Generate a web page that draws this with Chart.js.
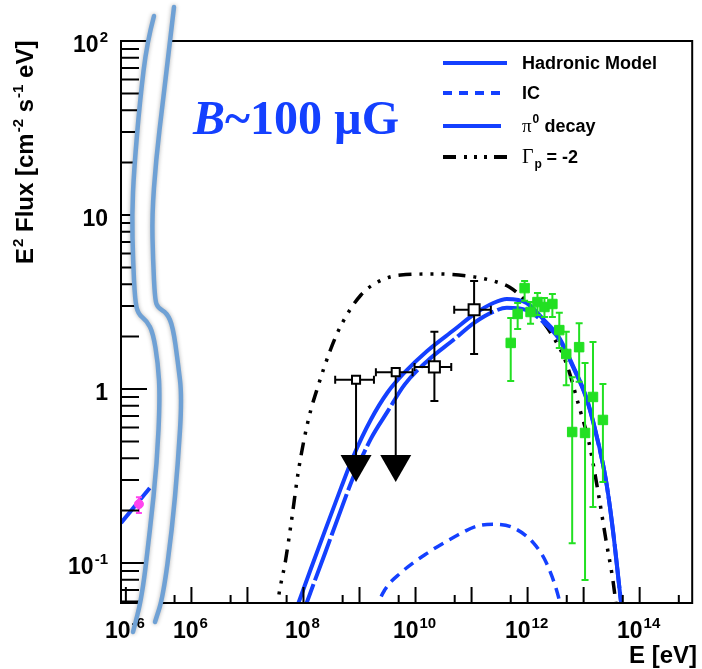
<!DOCTYPE html>
<html>
<head>
<meta charset="utf-8">
<script src="https://cdn.jsdelivr.net/npm/chart.js@4.4.1/dist/chart.umd.min.js"></script>
<style>
  html, body { margin: 0; padding: 0; background: #fff; }
  canvas { display: block; }
</style>
</head>
<body>
<canvas id="sed" width="702" height="669"></canvas>
<script>
// Values. Energies in eV, E^2 flux in cm^-2 s^-1 eV.

// hadronic model (total)
var hadronicE = [8.13e7, 1.33e8, 2.45e8, 4.71e8, 7.67e8, 1.6e9, 3.16e9, 6.38e9, 1.63e10, 4.9e10, 1.11e11, 2.5e11, 4.25e11, 9.59e11, 1.92e12, 3.68e12, 6.52e12, 1.11e13, 1.66e13, 2.5e13, 3.33e13, 4.61e13, 5.1e13];
var hadronicF = [0.0589, 0.0912, 0.155, 0.272, 0.407, 0.668, 0.955, 1.245, 1.66, 2.19, 2.69, 3.13, 3.29, 3.12, 2.51, 1.97, 1.35, 0.90, 0.56, 0.30, 0.155, 0.0612, 0.047];

// pi0 decay component
var pionE = [8.13e7, 1.33e8, 2.45e8, 4.71e8, 7.67e8, 1.6e9, 3.16e9, 6.38e9, 1.63e10, 4.9e10, 1.11e11, 2.5e11, 4.25e11, 9.59e11, 1.92e12, 3.68e12, 6.52e12, 1.11e13, 1.66e13, 2.5e13, 3.33e13, 4.61e13, 5.1e13];
var pionF = [0.0437, 0.0676, 0.115, 0.204, 0.309, 0.519, 0.741, 1.06, 1.45, 1.93, 2.40, 2.79, 2.93, 2.84, 2.42, 1.93, 1.33, 0.89, 0.555, 0.30, 0.155, 0.0612, 0.047];

// inverse Compton component
var icE = [2.0e9, 2.21e9, 2.82e9, 5.43e9, 1.63e10, 4.9e10, 1.25e11, 2.5e11, 5.65e11, 1.28e12, 2.17e12, 3.68e12, 3.98e12];
var icF = [0.051, 0.0589, 0.070, 0.0877, 0.114, 0.141, 0.163, 0.167, 0.159, 0.130, 0.100, 0.0612, 0.054];

// proton index -2 model
var gammaE = [3.3e7, 3.47e7, 4.8e7, 6.14e7, 8.17e7, 1.22e8, 1.84e8, 3.01e8, 4.71e8, 1.06e9, 2.31e9, 5.43e9, 2.45e10, 1.11e11, 2.82e11, 4.8e11, 7.21e11, 1.28e12, 2.88e12, 4.9e12, 8.32e12, 1.25e13, 1.88e13, 2.5e13, 3.33e13, 3.76e13, 4.0e13];
var gammaF = [0.05, 0.0589, 0.104, 0.177, 0.342, 0.664, 1.05, 1.67, 2.33, 3.47, 4.18, 4.52, 4.58, 4.41, 4.12, 3.85, 3.47, 2.84, 1.99, 1.41, 0.789, 0.49, 0.239, 0.136, 0.0798, 0.0589, 0.05];

// synchrotron piece shown in the radio segment
var synchE = [8.2e-7, 2.67e-6];
var synchF = [0.170, 0.270];

// Fermi-LAT points (first two are upper limits)
var fermiE = [8.67e8, 4.43e9, 2.17e10, 1.11e11];
var fermiF = [1.13, 1.25, 1.34, 2.85];
var fermiElo = [3.68e8, 1.96e9, 9.6e9, 4.9e10];
var fermiEhi = [1.81e9, 8.85e9, 4.34e10, 2.21e11];
var fermiFlo = [null, null, 0.853, 1.59];
var fermiFhi = [null, null, 2.13, 4.18];
var fermiLimitTo = [0.292, 0.292, null, null];

// TeV points
var tevE = [5.0e11, 6.65e11, 8.85e11, 1.13e12, 1.5e12, 2.0e12, 2.77e12, 3.68e12, 4.9e12, 6.25e12, 8.32e12, 1.06e13, 1.47e13, 2.21e13];
var tevF = [1.84, 2.70, 3.80, 2.77, 3.16, 2.96, 3.08, 2.18, 1.59, 0.566, 1.74, 0.559, 0.90, 0.664];
var tevFlo = [1.11, 2.21, 3.21, 2.37, 2.66, 2.59, 2.59, 1.72, 1.05, 0.130, 1.10, 0.0798, 0.21, 0.292];
var tevFhi = [2.56, 3.12, 4.18, 3.16, 3.56, 3.33, 3.52, 2.74, 2.13, 1.17, 2.39, 1.41, 1.86, 1.07];

// radio point
var radioE = [1.71e-6];
var radioF = [0.218];
var radioFlo = [0.194];
var radioFhi = [0.239];

// axis ticks and labels
var xLabelE = [1e-6, 1e6, 1e8, 1e10, 1e12, 1e14];
var xLabelExp = ['-6', '6', '8', '10', '12', '14'];
var yLabelV = [0.1, 1, 10, 100];
var yLabelTxt = [['10', '-1'], ['1', ''], ['10', ''], ['10', '2']];

var X_MIN = 4.743, X_MAX = 14.938;   // log10(E) range of the main axis
var Y_MIN = 0.0589, Y_MAX = 100;
var LEFT_SHIFT = 10.83;              // broken axis: the radio decade is slid next to 1e5 eV

var BLUE = '#1440ff';
var GREEN = '#22e022';
var SANS = '"Liberation Sans", Arial, sans-serif';
var SERIF = '"Liberation Serif", "Times New Roman", serif';

function u(E) { return E < 1 ? Math.log10(E) + LEFT_SHIFT : Math.log10(E); }
function pts(es, fs) { return es.map(function (e, i) { return { x: u(e), y: fs[i] }; }); }

function smoothPath(ctx, p, cont) {
    if (cont) ctx.lineTo(p[0][0], p[0][1]); else ctx.moveTo(p[0][0], p[0][1]);
    for (var i = 1; i < p.length - 1; i++) {
        ctx.quadraticCurveTo(p[i][0], p[i][1], (p[i][0] + p[i + 1][0]) / 2, (p[i][1] + p[i + 1][1]) / 2);
    }
    ctx.lineTo(p[p.length - 1][0], p[p.length - 1][1]);
}

function vbar(ctx, x, y0, y1, cap) {
    ctx.beginPath();
    ctx.moveTo(x, y0); ctx.lineTo(x, y1);
    ctx.moveTo(x - cap, y0); ctx.lineTo(x + cap, y0);
    ctx.moveTo(x - cap, y1); ctx.lineTo(x + cap, y1);
    ctx.stroke();
}

function power(ctx, base, exp, x, y, align, big, small) {
    ctx.font = 'bold ' + big + 'px ' + SANS;
    var wb = ctx.measureText(base).width;
    ctx.font = 'bold ' + small + 'px ' + SANS;
    var we = exp ? ctx.measureText(exp).width + 1 : 0;
    var w = wb + we;
    var x0 = align === 'right' ? x - w : x - w / 2;
    ctx.textAlign = 'left';
    ctx.textBaseline = 'alphabetic';
    ctx.font = 'bold ' + big + 'px ' + SANS;
    ctx.fillText(base, x0, y);
    if (exp) {
        ctx.font = 'bold ' + small + 'px ' + SANS;
        ctx.fillText(exp, x0 + wb + 1, y - big * 0.45);
    }
}

// the two wavy lines marking the axis break
var breakL = [[154, 16], [147, 42], [140, 100], [134, 170], [132, 215], [133, 260], [135, 300], [138, 314], [147, 321], [153, 333], [158, 363], [160, 397], [157, 463], [150, 530], [142, 597], [133, 632]];
var breakR = [[174, 7], [170, 42], [163, 100], [156, 160], [152, 215], [153, 260], [155, 300], [158, 308], [167, 313], [173, 327], [178, 363], [182, 397], [178, 463], [172, 530], [163, 597], [155, 622]];

var sedDecor = {
    id: 'sedDecor',
    beforeDatasetDraw: function (chart, args) {
        var ctx = chart.ctx, xs = chart.scales.x, ys = chart.scales.y;
        ctx.save();
        ctx.lineWidth = 2;
        if (args.index === 0) {
            ctx.strokeStyle = '#000';
            ctx.fillStyle = '#000';
            fermiE.forEach(function (e, i) {
                var px = xs.getPixelForValue(u(e)), py = ys.getPixelForValue(fermiF[i]);
                var x0 = xs.getPixelForValue(u(fermiElo[i])), x1 = xs.getPixelForValue(u(fermiEhi[i]));
                ctx.beginPath();
                ctx.moveTo(x0, py); ctx.lineTo(x1, py);
                ctx.moveTo(x0, py - 4); ctx.lineTo(x0, py + 4);
                ctx.moveTo(x1, py - 4); ctx.lineTo(x1, py + 4);
                ctx.stroke();
                if (fermiLimitTo[i]) {
                    var tip = ys.getPixelForValue(fermiLimitTo[i]);
                    ctx.beginPath();
                    ctx.moveTo(px, py); ctx.lineTo(px, tip - 26);
                    ctx.stroke();
                    ctx.beginPath();
                    ctx.moveTo(px - 15.5, tip - 27); ctx.lineTo(px + 15.5, tip - 27); ctx.lineTo(px, tip);
                    ctx.closePath();
                    ctx.fill();
                } else {
                    vbar(ctx, px, ys.getPixelForValue(fermiFhi[i]), ys.getPixelForValue(fermiFlo[i]), 4);
                }
            });
        } else if (args.index === 1) {
            ctx.strokeStyle = GREEN;
            tevE.forEach(function (e, i) {
                vbar(ctx, xs.getPixelForValue(u(e)), ys.getPixelForValue(tevFhi[i]), ys.getPixelForValue(tevFlo[i]), 3.5);
            });
        } else if (args.index === 2) {
            ctx.strokeStyle = '#ff44ee';
            radioE.forEach(function (e, i) {
                vbar(ctx, xs.getPixelForValue(u(e)), ys.getPixelForValue(radioFhi[i]), ys.getPixelForValue(radioFlo[i]), 3);
            });
        }
        ctx.restore();
    },
    afterDraw: function (chart) {
        var ctx = chart.ctx, xs = chart.scales.x, ys = chart.scales.y, a = chart.chartArea;
        ctx.save();

        // frame
        ctx.strokeStyle = '#000';
        ctx.lineWidth = 2;
        ctx.strokeRect(a.left, a.top, a.right - a.left, a.bottom - a.top);

        // x ticks: long at decades, short at 5 x decade
        ctx.beginPath();
        for (var n = 5; n <= 14; n++) {
            [[Math.pow(10, n), 16], [5 * Math.pow(10, n), 8]].forEach(function (t) {
                var v = u(t[0]);
                if (v < 5.6 || v > X_MAX) return;
                var px = xs.getPixelForValue(v);
                ctx.moveTo(px, a.bottom); ctx.lineTo(px, a.bottom - t[1]);
            });
        }
        var pl = xs.getPixelForValue(u(1e-6));
        ctx.moveTo(pl, a.bottom); ctx.lineTo(pl, a.bottom - 16);
        // y ticks
        for (var d = -2; d <= 2; d++) {
            for (var m = 1; m <= 9; m++) {
                var v = m * Math.pow(10, d);
                if (v < Y_MIN || v > Y_MAX) continue;
                var py = ys.getPixelForValue(v);
                ctx.moveTo(a.left, py); ctx.lineTo(a.left + (m === 1 ? 26 : 18), py);
            }
        }
        ctx.stroke();

        // axis break: white gap first
        ctx.beginPath();
        smoothPath(ctx, breakL, false);
        smoothPath(ctx, breakR.slice().reverse(), true);
        ctx.closePath();
        ctx.fillStyle = '#fff';
        ctx.fill();

        // tick labels
        ctx.fillStyle = '#000';
        xLabelE.forEach(function (e, i) {
            power(ctx, '10', xLabelExp[i], xs.getPixelForValue(u(e)) - 1, 638, 'center', 23, 15);
        });
        yLabelV.forEach(function (v, i) {
            power(ctx, yLabelTxt[i][0], yLabelTxt[i][1], 108, ys.getPixelForValue(v) + 11, 'right', 23, 15);
        });

        // axis titles
        ctx.font = 'bold 24px ' + SANS;
        ctx.textAlign = 'right';
        ctx.textBaseline = 'alphabetic';
        ctx.fillText('E [eV]', 697, 663);

        ctx.save();
        ctx.translate(33, 264);
        ctx.rotate(-Math.PI / 2);
        var parts = [['E', 0], ['2', 1], [' Flux [cm', 0], ['-2', 1], [' s', 0], ['-1', 1], [' eV]', 0]];
        var cx = 0;
        ctx.textAlign = 'left';
        parts.forEach(function (p) {
            ctx.font = 'bold ' + (p[1] ? 15 : 24) + 'px ' + SANS;
            ctx.fillText(p[0], cx + (p[1] ? 1 : 0), p[1] ? -10 : 0);
            cx += ctx.measureText(p[0]).width + (p[1] ? 1 : 0);
        });
        ctx.restore();

        // B~100 uG
        ctx.fillStyle = BLUE;
        ctx.textAlign = 'left';
        ctx.font = 'italic bold 48px ' + SERIF;
        ctx.fillText('B', 193, 134);
        var bw = ctx.measureText('B').width;
        ctx.font = 'bold 48px ' + SERIF;
        ctx.fillText('~100 \u00b5G', 193 + bw, 134);

        // legend
        var lx0 = 443, lx1 = 507, tx = 522;
        ctx.lineWidth = 4;
        ctx.strokeStyle = BLUE;
        ctx.beginPath(); ctx.moveTo(lx0, 63); ctx.lineTo(lx1, 63); ctx.stroke();
        ctx.setLineDash([9, 7]);
        ctx.beginPath(); ctx.moveTo(lx0, 93); ctx.lineTo(lx1, 93); ctx.stroke();
        ctx.setLineDash([]);
        ctx.beginPath(); ctx.moveTo(lx0, 126); ctx.lineTo(lx1 - 6, 126); ctx.stroke();
        ctx.strokeStyle = '#000';
        ctx.setLineDash([13, 8, 3, 7, 3, 7, 3, 7]);
        ctx.beginPath(); ctx.moveTo(lx0, 157); ctx.lineTo(lx1, 157); ctx.stroke();
        ctx.setLineDash([]);

        ctx.fillStyle = '#000';
        ctx.font = 'bold 18px ' + SANS;
        ctx.fillText('Hadronic Model', tx, 69);
        ctx.fillText('IC', tx, 99);
        ctx.font = '19px ' + SERIF;
        ctx.fillText('\u03c0', tx, 132);
        var w = ctx.measureText('\u03c0').width;
        ctx.font = 'bold 12px ' + SANS;
        ctx.fillText('0', tx + w + 1, 123);
        ctx.font = 'bold 18px ' + SANS;
        ctx.fillText(' decay', tx + w + 8, 132);
        ctx.font = '20px ' + SERIF;
        ctx.fillText('\u0393', tx, 163);
        w = ctx.measureText('\u0393').width;
        ctx.font = 'bold 12px ' + SANS;
        ctx.fillText('p', tx + w + 1, 168);
        ctx.font = 'bold 18px ' + SANS;
        ctx.fillText(' = -2', tx + w + 8, 163);

        // axis break: the two wavy strokes on top
        ctx.strokeStyle = '#6fa1d5';
        ctx.lineWidth = 4.5;
        ctx.lineCap = 'round';
        ctx.shadowColor = 'rgba(0,0,0,0.3)';
        ctx.shadowBlur = 4;
        [breakL, breakR].forEach(function (p) {
            ctx.beginPath();
            smoothPath(ctx, p, false);
            ctx.stroke();
        });
        ctx.restore();
    }
};

new Chart(document.getElementById('sed'), {
    type: 'scatter',
    data: {
        datasets: [
            { label: 'Fermi', data: pts(fermiE, fermiF), pointStyle: 'rect', pointRadius: [5.7, 5.7, 7.8, 7.8],
              backgroundColor: '#fff', borderColor: '#000', borderWidth: 2 },
            { label: 'TeV', data: pts(tevE, tevF), pointStyle: 'rect', pointRadius: 6.7,
              backgroundColor: GREEN, borderColor: GREEN, borderWidth: 1 },
            { label: 'Radio', data: pts(radioE, radioF), pointStyle: 'circle', pointRadius: 4.5,
              backgroundColor: '#ff44ee', borderColor: '#ff44ee', borderWidth: 1 },
            { label: 'Hadronic Model', data: pts(hadronicE, hadronicF), showLine: true, pointRadius: 0,
              borderColor: BLUE, borderWidth: 4, cubicInterpolationMode: 'monotone' },
            { label: 'pi0 decay', data: pts(pionE, pionF), showLine: true, pointRadius: 0,
              borderColor: BLUE, borderWidth: 4, borderDash: [44, 4], cubicInterpolationMode: 'monotone' },
            { label: 'IC', data: pts(icE, icF), showLine: true, pointRadius: 0,
              borderColor: BLUE, borderWidth: 3.5, borderDash: [11, 7], cubicInterpolationMode: 'monotone' },
            { label: 'Gamma_p = -2', data: pts(gammaE, gammaF), showLine: true, pointRadius: 0,
              borderColor: '#000', borderWidth: 3.5, borderDash: [13, 8, 3, 8, 3, 8, 3, 8], cubicInterpolationMode: 'monotone' },
            { label: 'synchrotron', data: pts(synchE, synchF), showLine: true, pointRadius: 0,
              borderColor: BLUE, borderWidth: 4 }
        ]
    },
    options: {
        responsive: false,
        animation: false,
        devicePixelRatio: 1,
        layout: { padding: { left: 121, top: 41, right: 5, bottom: 66 } },
        plugins: { legend: { display: false }, tooltip: { enabled: false } },
        scales: {
            x: { type: 'linear', display: false, min: X_MIN, max: X_MAX },
            y: { type: 'logarithmic', display: false, min: Y_MIN, max: Y_MAX }
        }
    },
    plugins: [sedDecor]
});
</script>
</body>
</html>
